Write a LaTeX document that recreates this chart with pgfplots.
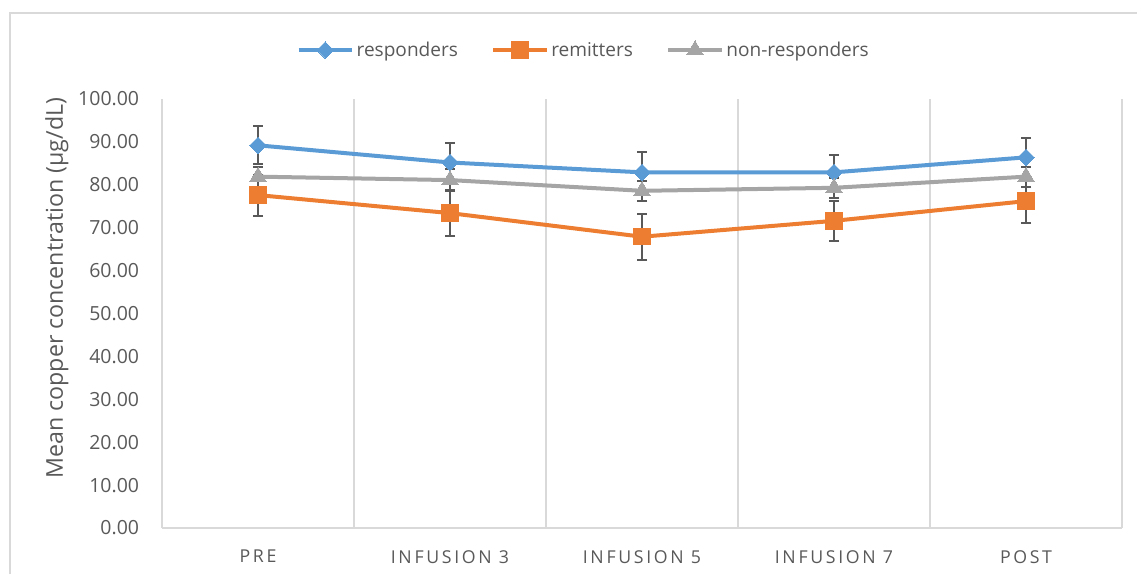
\documentclass[border=0pt]{standalone}
\usepackage{pgfplots}
\pgfplotsset{compat=1.18}
\usepackage{pgfplotstable}
\usepackage{fontspec}
\setmainfont{Open Sans}
\newfontfamily\spaced[LetterSpace=15]{Open Sans}
\definecolor{cblue}{HTML}{5B9BD5}
\definecolor{corange}{HTML}{ED7D31}
\definecolor{cgray}{HTML}{A5A5A5}
\definecolor{ctext}{HTML}{595959}
\definecolor{cgrid}{HTML}{D9D9D9}
\definecolor{cerr}{HTML}{595959}

\pgfplotstableread{
x y e
0 89.2 4.4
1 85.2 4.6
2 82.9 4.8
3 82.9 4.0
4 86.4 4.6
}\responders
\pgfplotstableread{
x y e
0 77.6 4.8
1 73.4 5.4
2 67.9 5.4
3 71.6 4.7
4 76.2 5.2
}\remitters
\pgfplotstableread{
x y e
0 81.9 2.3
1 81.1 2.6
2 78.6 2.3
3 79.3 2.3
4 81.9 2.3
}\nonresponders

\begin{document}
\begin{tikzpicture}
\useasboundingbox (0,0) rectangle (852.75pt,-430.5pt);
\draw[cgrid, line width=1pt] (7.5pt,-430.5pt) -- (7.5pt,-9.75pt) -- (852.75pt,-9.75pt);
\begin{axis}[
  at={(121.5pt,-396pt)}, anchor=south west,
  scale only axis, width=720pt, height=321.75pt,
  xmin=-0.5, xmax=4.5, ymin=0, ymax=100,
  xtick={0,1,2,3,4},
  xticklabels={PRE, INFUSION 3, INFUSION 5, INFUSION 7, POST},
  minor xtick={-0.5,0.5,1.5,2.5,3.5,4.5},
  xminorgrids, minor x grid style={cgrid, line width=1pt},
  ytick={0,10,...,100},
  axis x line*=bottom, axis y line*=left,
  axis line style={cgrid, line width=1pt, -},
  major tick length=0pt, minor tick length=0pt,
  tick style={draw=none},
  /pgf/number format/assume math mode=true,
  yticklabel={\pgfmathprintnumber[fixed, fixed zerofill, precision=2]{\tick}},
  y tick label style={font=\fontsize{14.6pt}{17pt}\selectfont, text=ctext, inner sep=0pt, xshift=-17pt, anchor=east},
  x tick label style={font=\spaced\fontsize{13.3pt}{16pt}\selectfont, text=ctext, inner sep=0pt, yshift=-16.5pt, anchor=north},
  ylabel={Mean copper concentration (µg/dL)},
  every axis y label/.style={at={(axis description cs:-0.1094,0.559)}, rotate=90, anchor=center, font=\fontsize{17.4pt}{20pt}\selectfont, text=ctext},
  legend columns=3,
  legend style={at={(axis description cs:0.4396,1.114)}, anchor=center, draw=none, fill=none,
    font=\fontsize{14.3pt}{17pt}\selectfont, text=ctext,
    /tikz/every even column/.append style={column sep=23pt},
    inner sep=0pt, cells={anchor=west}},
  legend image code/.code={\draw[mark repeat=2,mark phase=2] plot coordinates {(0pt,0pt) (20pt,0pt) (40pt,0pt)};},
  error bars/error bar style={cerr, line width=1.5pt},
  error bars/error mark options={cerr, rotate=90, mark size=3.75pt, line width=1.5pt},
]
\addplot[cblue, line width=3pt, mark=square*, mark size=4.4pt, mark options={rotate=45, solid, fill=cblue, draw=cblue, line width=0pt},
  error bars/.cd, y dir=both, y explicit]
  table[x=x, y=y, y error=e] {\responders};
\addlegendentry{responders}
\addplot[corange, line width=3pt, mark=square*, mark size=6.2pt, mark options={solid, fill=corange, draw=corange, line width=0pt},
  error bars/.cd, y dir=both, y explicit]
  table[x=x, y=y, y error=e] {\remitters};
\addlegendentry{remitters}
\addplot[cgray, line width=3pt, mark=triangle*, mark size=7pt, mark options={solid, fill=cgray, draw=cgray, line width=0pt},
  error bars/.cd, y dir=both, y explicit]
  table[x=x, y=y, y error=e] {\nonresponders};
\addlegendentry{non-responders}
\end{axis}
\end{tikzpicture}
\end{document}
